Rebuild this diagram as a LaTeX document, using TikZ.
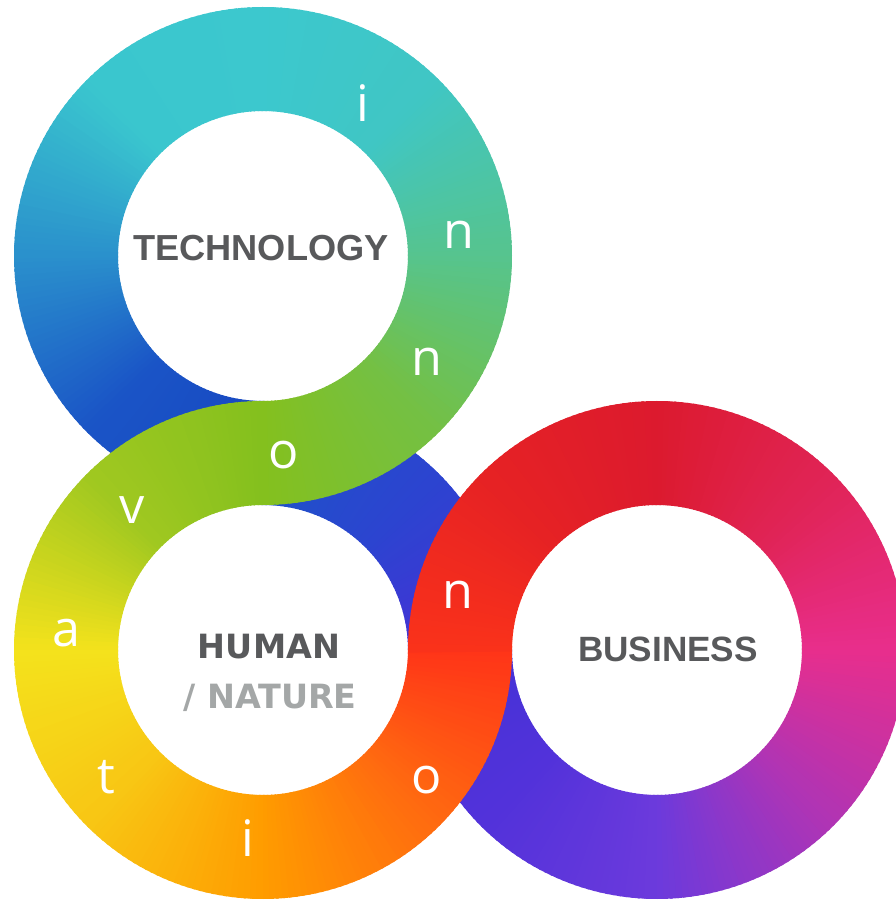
\documentclass[tikz,border=0pt]{standalone}
\usepackage{fontspec}
\usepackage{tikz}
\usetikzlibrary{calc}
\newfontfamily\letterfont{Open Sans}
\newfontfamily\titlefont{Liberation Sans}
\newfontfamily\heavyfont{DejaVu Sans}

\definecolor{darkgrey}{HTML}{58595B}
\definecolor{lightgrey}{HTML}{A4A7A7}
% under layer
\definecolor{hb0}{HTML}{4432D6}
\definecolor{hb1}{HTML}{2C44D0}
\definecolor{hb2}{HTML}{1E52C8}
\definecolor{bb0}{HTML}{4432D6}
\definecolor{bb1}{HTML}{5232DA}
\definecolor{bb2}{HTML}{6C3ADC}
\definecolor{tb0}{HTML}{2A90CC}
\definecolor{tb1}{HTML}{1A54C6}
\definecolor{tb2}{HTML}{1848C2}
% over layer
\definecolor{tg0}{HTML}{84C01E}
\definecolor{tg1}{HTML}{74C044}
\definecolor{tg2}{HTML}{56C48E}
\definecolor{tg3}{HTML}{40C6C4}
\definecolor{tg4}{HTML}{3CC8CE}
\definecolor{tg5}{HTML}{3AC6CE}
\definecolor{tg6}{HTML}{2A90CC}
\definecolor{hg0}{HTML}{84C01E}
\definecolor{hg1}{HTML}{A0C820}
\definecolor{hg2}{HTML}{F4E21C}
\definecolor{hg3}{HTML}{F8C614}
\definecolor{hg4}{HTML}{FF9C00}
\definecolor{hg5}{HTML}{FF6A10}
\definecolor{hg6}{HTML}{FF3418}
\definecolor{bg0}{HTML}{6C3ADC}
\definecolor{bg1}{HTML}{B034B4}
\definecolor{bg2}{HTML}{E82E8C}
\definecolor{bg3}{HTML}{E02456}
\definecolor{bg4}{HTML}{DC1A2E}
\definecolor{bg5}{HTML}{E62224}
\definecolor{bg6}{HTML}{FA321A}

\tikzset{%
   letter/.style={
      text=white,
      inner sep=0pt,
      font=\letterfont\fontsize{14.3}{16}\selectfont
   },
   title/.style={
      text=darkgrey,
      inner sep=0pt,
      font=\titlefont\bfseries\fontsize{10}{12}\selectfont
   },
   heavy/.style={
      inner sep=0pt,
      font=\heavyfont\bfseries\fontsize{9.5}{11}\selectfont
   },
}

\begin{document}
\begin{tikzpicture}
   \useasboundingbox (0,0) rectangle (8.96,9);
   \clip (0,0) rectangle (8.96,9);
   \fill[white] (0,0) rectangle (8.96,9);
   \coordinate (tc) at (2.63,6.44);
   \coordinate (hc) at (2.63,2.50);
   \coordinate (bc) at (6.57,2.50);
   \def\Ro{2.49}
   \def\Ri{1.45}
   % blue pieces first, the crossing pieces go over them
   \foreach \ctr/\angA/\angB/\colA/\colB in {
      hc/0/45/hb0/hb1, hc/45/90/hb1/hb2,
      bc/-180/-135/bb0/bb1, bc/-135/-90/bb1/bb2,
      tc/180/225/tb0/tb1, tc/225/270/tb1/tb2,
      tc/-90/-45/tg0/tg1, tc/-45/0/tg1/tg2, tc/0/45/tg2/tg3,
      tc/45/90/tg3/tg4, tc/90/135/tg4/tg5, tc/135/180/tg5/tg6,
      hc/90/135/hg0/hg1, hc/135/180/hg1/hg2, hc/180/225/hg2/hg3,
      hc/225/270/hg3/hg4, hc/270/315/hg4/hg5, hc/315/360/hg5/hg6,
      bc/-90/-45/bg0/bg1, bc/-45/0/bg1/bg2, bc/0/45/bg2/bg3,
      bc/45/90/bg3/bg4, bc/90/135/bg4/bg5, bc/135/180/bg5/bg6}{
      \foreach \s in {0,...,29}{
         \pgfmathsetmacro\angU{\angA+(\angB-\angA)*\s/30}
         \pgfmathsetmacro\angV{\angA+(\angB-\angA)*(\s+1.4)/30}
         \pgfmathtruncatemacro\mix{100*(\s+0.5)/30}
         \fill[fill=\colB!\mix!\colA] ($(\ctr)+(\angU:\Ro)$)
            arc[start angle=\angU, end angle=\angV, radius=\Ro]
            -- ($(\ctr)+(\angV:\Ri)$)
            arc[start angle=\angV, end angle=\angU, radius=\Ri] -- cycle;
      }
   }
   \node[title, font=\titlefont\bfseries\fontsize{10.3}{12}\selectfont] (tech) at ($(tc)+(-0.02,0.08)$) {TECHNOLOGY};
   \node[heavy, text=darkgrey] (human) at ($(hc)+(0.06,0.03)$) {HUMAN};
   \node[heavy, text=lightgrey] (nature) at ($(hc)+(0.07,-0.48)$) {/ NATURE};
   \node[title] (business) at ($(bc)+(0.11,0.01)$) {BUSINESS};
   \node[letter] (l0) at ($(tc)+(56.8:1.83)$) {i};
   \node[letter] (l1) at ($(tc)+(6.1:1.97)$) {n};
   \node[letter] (l2) at ($(tc)+(-32.9:1.95)$) {n};
   \node[letter] (l3) at ($(tc)+(-84:2.00)$) {o};
   \node[letter] (l4) at ($(hc)+(133.1:1.92)$) {v};
   \node[letter] (l5) at ($(hc)+(175:1.97)$) {a};
   \node[letter] (l6) at ($(hc)+(219:2.02)$) {t};
   \node[letter] (l7) at ($(hc)+(265.4:1.89)$) {i};
   \node[letter] (l8) at ($(hc)+(-38.4:2.09)$) {o};
   \node[letter] (l9) at ($(hc)+(15.8:2.03)$) {n};
\end{tikzpicture}
\end{document}
